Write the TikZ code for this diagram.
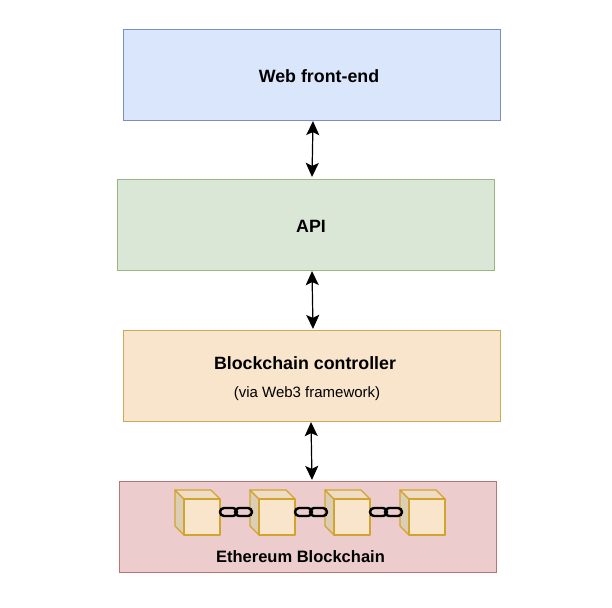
\documentclass[tikz,border=0pt]{standalone}
\usepackage{fontspec}
\setmainfont{Liberation Sans}
\usetikzlibrary{calc,arrows.meta}

\definecolor{frontfill}{HTML}{DAE6FB}
\definecolor{frontline}{HTML}{7D8DBD}
\definecolor{apifill}{HTML}{DBE7D6}
\definecolor{apiline}{HTML}{97B880}
\definecolor{ctrlfill}{HTML}{F9E4CC}
\definecolor{ctrlline}{HTML}{CBA956}
\definecolor{chainfill}{HTML}{ECCCCD}
\definecolor{chainline}{HTML}{B57573}
\definecolor{cubeline}{HTML}{D2A42E}
\definecolor{cubeside}{HTML}{DCCDB5}
\definecolor{cubetop}{HTML}{EEDCC5}

\tikzset{
	layer/.style={draw, line width=1.2pt, minimum width=377pt, minimum height=91pt, inner sep=0pt},
	title/.style={font=\fontsize{17.8}{20}\selectfont\bfseries, inner sep=0pt},
	titlesm/.style={font=\fontsize{16.5}{19}\selectfont\bfseries, inner sep=0pt},
	small/.style={font=\fontsize{15}{18}\selectfont, inner sep=0pt},
	link/.style={<->, >={Stealth[length=14pt,width=13pt,inset=3pt]}, line width=1.2pt},
	ring/.style={draw=black, line width=2.4pt, rounded corners=4pt},
}

\begin{document}
\begin{tikzpicture}[x=1pt,y=-1pt]

	\useasboundingbox (0,0) rectangle (612,607);

	% layers
	\node[layer, draw=frontline, fill=frontfill] (front) at (312,75) {};
	\node[layer, draw=apiline, fill=apifill] (api) at (306,225) {};
	\node[layer, draw=ctrlline, fill=ctrlfill] (ctrl) at (312,376) {};
	\node[layer, draw=chainline, fill=chainfill] (chain) at (308,527) {};

	% labels
	\node[title] (fronttext) at (319,76) {Web front-end};
	\node[title] (apitext) at (311,226) {API};
	\node[title] (ctrltext) at (305,363) {Blockchain controller};
	\node[small] (ctrlsub) at (307,394) {(via Web3 framework)};
	\node[titlesm] (chaintext) at (300.5,557) {Ethereum Blockchain};

	% arrows between layers
	\draw[link] ($(front.south)+(1,0)$) -- ($(api.north)+(6,-2)$);
	\draw[link] ($(api.south)+(6,0)$) -- ($(ctrl.north)+(1,-1)$);
	\draw[link] ($(ctrl.south)+(-1,0)$) -- ($(chain.north)+(4,-1)$);

	% blocks
	\foreach \x in {175,250,325,400}{
		\draw[cubeline, line width=1.2pt, fill=cubeside, line join=round] (\x,490) -- (\x+9,499) -- (\x+9,535) -- (\x,526) -- cycle;
		\draw[cubeline, line width=1.2pt, fill=cubetop, line join=round] (\x,490) -- (\x+36,490) -- (\x+45,499) -- (\x+9,499) -- cycle;
		\draw[cubeline, line width=1.2pt, fill=ctrlfill, line join=round] (\x+9,499) rectangle (\x+45,535);
	}

	% chain links
	\foreach \x in {220,295,370}{
		\draw[ring] (\x,508) rectangle (\x+17,516);
		\draw[ring] (\x+15,508) rectangle (\x+32,516);
	}

\end{tikzpicture}
\end{document}
